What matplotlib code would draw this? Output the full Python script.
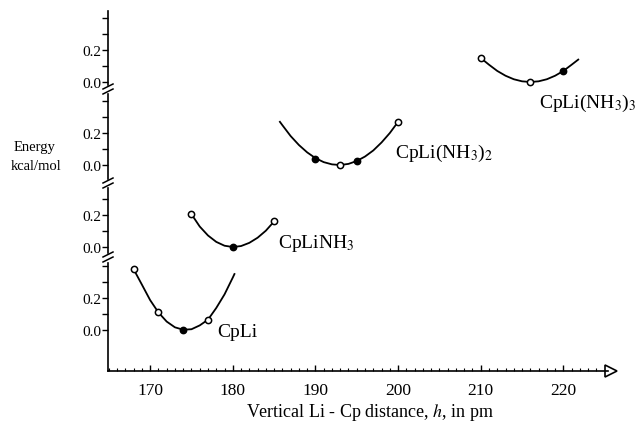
import matplotlib
matplotlib.use('Agg')
import matplotlib.pyplot as plt
from matplotlib.lines import Line2D
from matplotlib.ticker import MultipleLocator

plt.rcParams['font.family'] = ['Liberation Serif', 'DejaVu Serif']
plt.rcParams['mathtext.fontset'] = 'stix'

# data, bottom panel first
names = ['CpLi', 'CpLiNH$_3$', 'CpLi(NH$_3$)$_2$', 'CpLi(NH$_3$)$_3$']

# computed points (h in pm, energy in kcal/mol)
pts_h = [[168, 171, 174, 177],
         [175, 180, 185],
         [190, 193, 195, 200],
         [210, 216, 220]]
pts_e = [[0.38, 0.11, 0.0, 0.06],
         [0.205, 0.0, 0.16],
         [0.04, 0.0, 0.023, 0.27],
         [0.15, 0.0, 0.07]]
pts_filled = [[0, 0, 1, 0],
              [0, 1, 0],
              [1, 0, 1, 0],
              [0, 0, 1]]

# fitted curves
curve_h = [[168, 169, 170, 171, 172, 173, 174, 175, 176, 177, 178, 179, 180, 180.2],
           [175, 176, 177, 178, 179, 180, 181, 182, 183, 184, 185],
           [185.7, 186, 187, 188, 189, 190, 191, 192, 193, 194, 195, 196, 197, 198, 199, 200],
           [210, 211, 212, 213, 214, 215, 216, 217, 218, 219, 220, 221, 221.8]]
curve_e = [[0.38, 0.284, 0.187, 0.11, 0.053, 0.017, 0.002, 0.005, 0.029, 0.065, 0.138, 0.223, 0.328, 0.35],
           [0.205, 0.128, 0.072, 0.032, 0.008, 0.0, 0.006, 0.026, 0.058, 0.102, 0.16],
           [0.27, 0.249, 0.181, 0.125, 0.079, 0.043, 0.018, 0.004, 0.0, 0.007, 0.025, 0.053, 0.091, 0.141, 0.2, 0.27],
           [0.15, 0.108, 0.069, 0.039, 0.017, 0.004, 0.0, 0.004, 0.017, 0.039, 0.069, 0.108, 0.14]]

# label positions (data coords of each panel)
label_h = [178.1, 185.5, 199.6, 217.0]
label_e = [-0.035, 0.0, 0.048, -0.158]

x_ticks = [170, 180, 190, 200, 210, 220]

# layout in pixels (top, bottom) and y-limits of each panel
W, H = 639, 427
panel_px = [(264, 372), (189, 254), (95, 180), (12, 86)]
panel_ylim = [(-0.256, 0.419), (-0.0375, 0.369), (-0.0875, 0.444), (-0.019, 0.444)]
x_left, x_right = 108, 608
break_px = [258, 184, 90]

fig = plt.figure(figsize=(W / 100, H / 100), dpi=100)

axes = []
for i in range(4):
    top, bot = panel_px[i]
    ax = fig.add_axes([x_left / W, (H - bot) / H, (x_right - x_left) / W, (bot - top) / H])
    ax.set_xlim(164.9, 225.4)
    ax.patch.set_visible(False)
    for s in ['top', 'right']:
        ax.spines[s].set_visible(False)
    ax.spines['left'].set_linewidth(1.2)
    ax.set_yticks([0, 0.1, 0.2, 0.3, 0.4])
    ax.set_yticklabels(['0.0', '', '0.2', '', ''])
    ax.tick_params(axis='y', direction='out', length=4, width=1, pad=1, labelsize=11)
    ax.set_ylim(*panel_ylim[i])
    if i == 0:
        ax.spines['bottom'].set_linewidth(1.2)
        ax.set_xticks(x_ticks)
        ax.xaxis.set_minor_locator(MultipleLocator(1))
        ax.tick_params(axis='x', which='major', direction='in', length=4, width=1, pad=8, labelsize=12.5)
        ax.tick_params(axis='x', which='minor', direction='in', length=2.5, width=0.8)
        ax.plot(1.005, 0, marker='>', ms=8, mfc='white', mec='black', mew=1.2,
                transform=ax.transAxes, clip_on=False)
    else:
        ax.spines['bottom'].set_visible(False)
        ax.set_xticks([])

    ax.plot(curve_h[i], curve_e[i], color='black', lw=1.3, clip_on=False)
    for h, e, f in zip(pts_h[i], pts_e[i], pts_filled[i]):
        ax.plot(h, e, marker='o', ms=4.5, mec='black', mew=1.1,
                mfc='black' if f else 'white', clip_on=False, zorder=3)
    ax.text(label_h[i], label_e[i], names[i], fontsize=14, ha='left', va='baseline')
    axes.append(ax)

# axis break marks
for yb in break_px:
    for dy in (-2.5, 2.5):
        fig.add_artist(Line2D([103 / W, 113 / W], [(H - yb - dy - 2.5) / H, (H - yb - dy + 2.5) / H],
                              color='black', lw=1.1, transform=fig.transFigure))

fig.text(35 / W, (H - 148) / H, 'Energy', fontsize=10.5, ha='center', va='center')
fig.text(36 / W, (H - 166) / H, 'kcal/mol', fontsize=10.5, ha='center', va='center')
fig.text(370 / W, (H - 413) / H, 'Vertical Li - Cp distance, $h$, in pm',
         fontsize=13, ha='center', va='center')

fig.savefig('out.png', dpi=100)
